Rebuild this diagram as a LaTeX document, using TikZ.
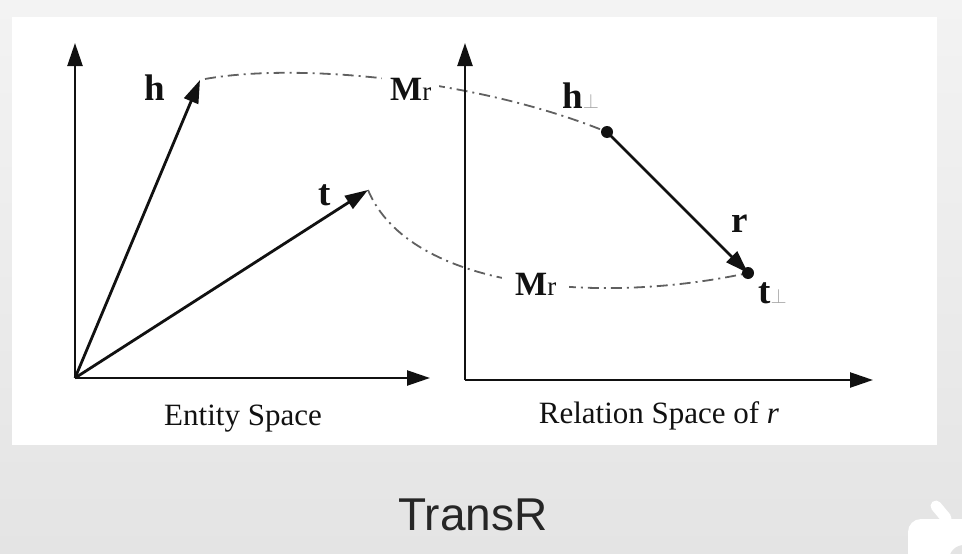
\documentclass[tikz,border=0pt]{standalone}
\usepackage{fontspec}
\setmainfont{Liberation Serif}
\newfontfamily\sansf{Liberation Sans}
\usetikzlibrary{arrows.meta}
\definecolor{bgtop}{HTML}{F3F3F3}
\definecolor{bgbot}{HTML}{E4E4E4}
\definecolor{curvegray}{HTML}{606060}
\definecolor{ink}{HTML}{111111}
\tikzset{
  axis/.style={draw=ink, line width=2.4pt, -{Triangle[length=23pt,width=15pt]}},
  vec/.style={draw=ink, line width=2.8pt, -{Triangle[length=23pt,width=15pt]}},
  mapcurve/.style={draw=curvegray, line width=1.8pt, dash pattern=on 11pt off 5pt on 2pt off 5pt},
  vlabel/.style={anchor=base west, inner sep=0pt, text=ink, font=\fontsize{37}{37}\selectfont\bfseries},
  mlabel/.style={anchor=base west, fill=white, inner xsep=8pt, inner ysep=2pt, text=ink},
  caption/.style={anchor=base, inner sep=0pt, text=ink, font=\fontsize{31}{31}\selectfont},
  dotnode/.style={circle, fill=ink, inner sep=0pt, minimum size=12pt}
}
\newcommand{\mysub}[1]{{\fontsize{27}{27}\selectfont\mdseries #1}}
\newcommand{\myperp}{{\color{gray!70}\fontsize{20}{20}\selectfont$\perp$}}
\begin{document}
\begin{tikzpicture}[x=1pt,y=-1pt]
\useasboundingbox (0,0) rectangle (962,554);
% background
\shade[top color=bgtop, bottom color=bgbot] (0,0) rectangle (962,554);
\fill[white] (12,17) rectangle (937,445);
% bottom right watermark shape
\fill[white, rounded corners=13pt] (908,519) rectangle (985,580);
\draw[white, line width=11pt, line cap=round] (936,506) -- (946,518);
\fill[bgbot] (964,560) circle (15pt);

% coordinates
\coordinate (O1) at (75,378);
\coordinate (Y1) at (75,43);
\coordinate (X1) at (430,378);
\coordinate (O2) at (465,380);
\coordinate (Y2) at (465,43);
\coordinate (X2) at (873,380);
\coordinate (htip) at (200,80);
\coordinate (ttip) at (368,190);
\coordinate (hcs) at (205,79);

% mapping curves
\draw[mapcurve] (hcs) .. controls (300,62) and (480,80) .. (607,132);
\draw[mapcurve] (ttip) .. controls (410,290) and (600,305) .. (748,273);

% Mr labels
\node[mlabel] (mr1) at (382,100) {\fontsize{34}{34}\selectfont\textbf{M}\mysub{r}};
\node[mlabel, inner xsep=13pt] (mr2) at (502,295) {\fontsize{34}{34}\selectfont\textbf{M}\mysub{r}};

% axes
\draw[axis] (O1) -- (Y1);
\draw[axis] (O1) -- (X1);
\draw[axis] (O2) -- (Y2);
\draw[axis] (O2) -- (X2);

% entity vectors
\draw[vec] (O1) -- (htip);
\draw[vec] (O1) -- (ttip);

% relation space points
\node[dotnode] (hp) at (607,132) {};
\node[dotnode] (tp) at (748,273) {};
\draw[vec] (hp.center) -- (tp.center);

% labels
\node[vlabel] (hl) at (144,100) {h};
\node[vlabel] (tl) at (318,205) {t};
\node[vlabel] (rl) at (731,232) {r};
\node[vlabel] (hpl) at (562,108) {h\myperp};
\node[vlabel] (tpl) at (758,303) {t\myperp};

% captions
\node[caption] (cap1) at (243,425) {Entity Space};
\node[caption] (cap2) at (659,423) {Relation Space of \textit{r}};
\node[anchor=base, inner sep=0pt, text=black!85, font=\sansf\fontsize{46}{46}\selectfont] (title) at (473,530) {TransR};
\end{tikzpicture}
\end{document}
